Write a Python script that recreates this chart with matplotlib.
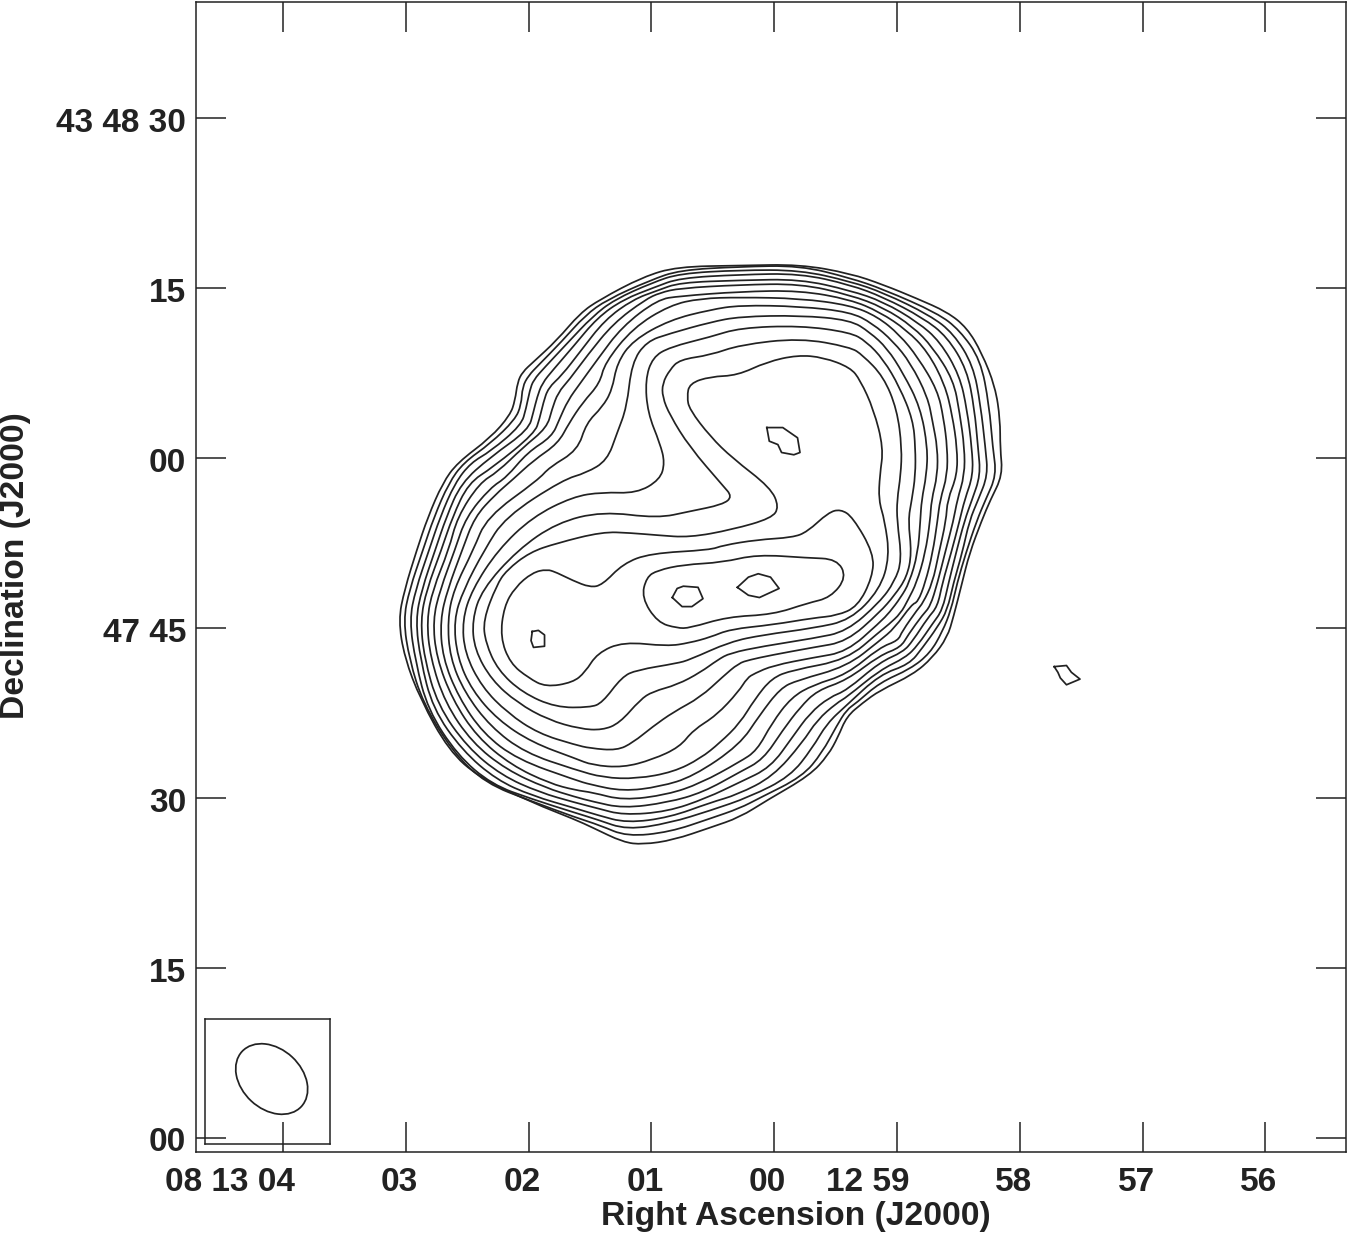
import matplotlib
matplotlib.use('Agg')
import matplotlib.pyplot as plt
from matplotlib.patches import Ellipse, PathPatch
from matplotlib.path import Path
from matplotlib.transforms import ScaledTranslation
import numpy as np

plt.rcParams['font.family'] = ['Liberation Sans', 'DejaVu Sans']
plt.rcParams['font.weight'] = 'bold'

INK = '#222222'

# tick values: RA seconds after 08 12 60, Dec arcsec after 43 47 00
ra_ticks = [4, 3, 2, 1, 0, -1, -2, -3, -4]
ra_labels = ['08 13 04', '03', '02', '01', '00', '12 59', '58', '57', '56']
dec_ticks = [0, 15, 30, 45, 60, 75, 90]
dec_labels = ['00', '15', '30', '47 45', '00', '15', '43 48 30']

# nested contours, outermost first
ra_c01 = [-.21,.28,.79,1.07,1.42,1.58,1.77,1.96,2.05,2.09,2.11,2.15,2.31,2.58,2.70,2.82,2.91,3.01,3.06,3.01,2.88,2.65,2.40,1.97,1.62,1.48,1.23,1.07,.82,.52,.28,.06,-.29,-.44,-.52,-.59,-.72,-.86,-1.13,-1.29,-1.41,-1.46,-1.53,-1.59,-1.69,-1.76,-1.86,-1.84,-1.84,-1.80,-1.69,-1.57,-1.41,-1.16,-.89,-.62]
dec_c01 = [77.1,77.0,76.9,76.0,74.0,72.8,70.4,68.5,67.6,66.7,65.1,63.8,61.8,59.6,57.8,54.8,51.9,48.4,45.7,42.4,38.7,34.2,31.8,29.6,28.1,27.4,26.1,25.9,26.3,27.4,28.3,29.8,32.0,33.8,35.4,37.2,38.4,39.5,40.9,42.4,44.2,46.0,49.0,51.6,54.5,56.3,58.5,60.9,63.4,66.3,69.3,71.5,72.9,74.1,75.3,76.3]
ra_c02 = [-.21,.28,.77,1.01,1.36,1.54,1.73,1.92,2.00,2.05,2.06,2.11,2.31,2.53,2.65,2.77,2.86,2.97,3.02,2.97,2.86,2.62,2.35,1.97,1.62,1.42,1.20,.85,.52,.28,.12,-.23,-.39,-.51,-.59,-.67,-.86,-1.11,-1.27,-1.37,-1.44,-1.49,-1.56,-1.65,-1.72,-1.81,-1.78,-1.75,-1.68,-1.51,-1.33,-.89,-.62]
dec_c02 = [77.0,76.9,76.6,75.7,74.0,72.6,70.3,68.2,67.3,66.3,64.7,63.4,61.3,59.6,57.8,54.8,51.9,48.4,45.7,42.2,38.4,34.1,31.3,29.7,28.3,27.6,26.6,27.0,28.2,29.1,30.0,31.9,34.0,36.4,37.8,38.4,40.2,41.4,42.8,44.7,46.6,49.0,51.6,54.5,56.3,58.5,60.9,64.7,68.7,71.3,72.8,74.9,75.9]
ra_c03 = [-.21,.28,.77,.99,1.30,1.48,1.68,1.87,1.96,1.99,2.02,2.06,2.31,2.47,2.60,2.72,2.81,2.92,2.97,2.92,2.82,2.58,2.30,1.97,1.62,1.44,1.20,.85,.52,.20,-.13,-.31,-.43,-.59,-.86,-1.10,-1.21,-1.33,-1.41,-1.46,-1.53,-1.59,-1.66,-1.74,-1.72,-1.68,-1.62,-1.46,-1.27,-.89,-.62]
dec_c03 = [76.6,76.6,76.3,75.5,74.0,72.5,70.2,68.0,66.9,66.0,64.4,62.9,60.6,59.6,57.8,54.8,51.9,48.4,45.7,42.0,37.8,33.8,31.2,29.9,28.7,28.1,27.2,27.8,28.9,30.1,31.9,34.4,36.6,38.2,40.9,41.8,43.3,45.1,46.6,49.0,51.6,54.5,56.3,58.5,60.9,64.7,68.2,71.0,72.6,74.6,75.6]
ra_c04 = [-.21,.28,.77,.97,1.23,1.44,1.64,1.80,1.89,1.93,1.96,2.00,2.31,2.55,2.67,2.76,2.87,2.92,2.88,2.78,2.54,2.26,1.97,1.62,1.44,1.20,.85,.52,.30,.01,-.23,-.35,-.51,-.59,-.86,-1.07,-1.17,-1.29,-1.37,-1.42,-1.48,-1.55,-1.61,-1.68,-1.66,-1.63,-1.57,-1.41,-1.21,-.89,-.62]
dec_c04 = [76.3,76.2,75.9,75.1,74.0,72.4,69.8,67.8,66.6,65.4,64.1,62.5,60.1,57.8,54.8,51.9,48.4,45.7,42.2,37.9,34.2,31.6,30.2,29.1,28.5,27.8,28.3,29.6,30.3,31.9,34.9,36.9,38.4,38.9,41.3,42.4,43.5,45.4,46.6,49.0,51.6,54.5,56.3,58.5,60.9,64.4,67.8,70.7,72.4,74.2,75.3]
ra_c05 = [-.21,.28,.77,.95,1.15,1.38,1.58,1.73,1.84,1.88,1.91,1.95,2.29,2.49,2.62,2.71,2.83,2.88,2.85,2.74,2.50,2.22,1.91,1.62,1.44,1.23,.87,.55,.28,.03,-.15,-.29,-.45,-.59,-.86,-1.05,-1.13,-1.25,-1.33,-1.37,-1.44,-1.51,-1.55,-1.62,-1.61,-1.57,-1.51,-1.35,-1.17,-.89,-.62]
dec_c05 = [75.8,75.7,75.5,74.8,74.0,72.2,69.4,67.3,66.2,64.9,63.5,62.2,59.2,57.8,54.8,51.9,48.4,45.7,42.4,38.2,34.5,32.0,30.5,29.6,29.1,28.5,28.8,30.0,31.4,32.7,35.4,37.5,38.9,39.5,42.0,42.9,43.9,45.9,46.9,49.0,51.6,54.5,56.3,58.5,60.9,64.3,67.3,70.3,72.0,73.8,74.8]
ra_c06 = [-.21,.28,.77,.93,1.05,1.31,1.52,1.67,1.76,1.81,1.85,2.05,2.25,2.40,2.58,2.65,2.78,2.83,2.80,2.68,2.46,2.18,1.86,1.62,1.48,1.23,.87,.58,.28,.09,-.07,-.21,-.35,-.59,-.86,-1.03,-1.09,-1.21,-1.27,-1.33,-1.39,-1.46,-1.49,-1.55,-1.55,-1.51,-1.46,-1.29,-1.13,-.89,-.62]
dec_c06 = [75.4,75.3,75.0,74.6,74.0,71.9,69.1,66.9,65.8,64.3,62.7,60.9,58.8,57.8,54.8,51.9,48.4,45.7,42.4,38.4,34.9,32.5,30.9,30.1,29.7,29.1,29.6,30.5,32.3,33.4,36.0,38.0,39.5,40.4,42.6,43.3,44.4,46.2,46.9,49.0,51.6,54.5,56.3,58.5,60.9,64.0,66.9,69.8,71.6,73.3,74.4]
ra_c07 = [-.21,.28,.77,.95,1.24,1.44,1.58,1.68,1.75,1.81,2.01,2.18,2.31,2.51,2.60,2.72,2.78,2.75,2.62,2.42,2.14,1.83,1.62,1.48,1.23,.87,.60,.28,.14,.02,-.14,-.32,-.59,-.86,-1.01,-1.04,-1.17,-1.21,-1.29,-1.34,-1.40,-1.41,-1.49,-1.49,-1.45,-1.39,-1.25,-1.08,-.86,-.62]
dec_c07 = [74.8,74.7,74.3,74.0,71.6,68.7,66.6,65.1,63.4,61.9,60.5,58.3,57.4,54.8,51.9,48.4,45.7,42.4,38.7,35.4,32.9,31.3,30.7,30.5,29.8,30.3,31.3,33.2,34.2,36.6,38.9,40.0,40.9,43.3,43.9,44.7,46.7,47.2,49.0,51.6,54.5,56.3,58.5,60.9,63.8,66.5,69.4,71.3,72.9,74.0]
ra_c08 = [-.21,.28,.60,.85,1.15,1.38,1.42,1.56,1.67,1.76,1.96,2.13,2.27,2.44,2.54,2.66,2.72,2.70,2.57,2.37,2.09,1.62,1.50,1.23,.93,.66,.28,.12,-.05,-.19,-.59,-.86,-.98,-1.12,-1.17,-1.23,-1.29,-1.33,-1.35,-1.41,-1.41,-1.38,-1.33,-1.17,-1.02,-.84,-.62]
dec_c08 = [74.1,74.2,74.1,73.5,71.5,68.4,66.6,64.9,63.1,61.3,59.8,58.1,56.8,54.8,51.9,48.4,45.7,42.4,38.9,35.7,33.4,31.6,31.2,30.6,31.0,31.9,34.7,37.3,39.7,40.4,41.6,43.9,45.0,47.1,47.3,49.0,51.6,54.5,56.3,58.5,60.9,63.5,66.0,68.9,70.9,72.5,73.5]
ra_c09 = [-.21,.28,.52,.85,1.15,1.28,1.32,1.40,1.53,1.60,1.83,1.92,2.34,2.45,2.61,2.66,2.64,2.52,2.31,2.03,1.62,1.39,1.12,.82,.60,.44,.28,.16,.02,-.15,-.59,-.86,-.93,-1.03,-1.09,-1.16,-1.23,-1.27,-1.28,-1.33,-1.33,-1.29,-1.25,-1.11,-.97,-.80,-.62]
dec_c09 = [73.4,73.5,73.1,72.2,70.4,68.4,66.0,64.5,63.1,60.7,59.2,58.1,54.8,51.9,48.4,45.7,42.4,39.3,36.3,34.0,32.5,31.8,31.7,32.3,33.5,34.9,36.6,38.7,40.6,41.3,42.2,44.7,45.3,46.3,47.5,49.0,51.6,54.5,56.3,58.5,60.9,63.2,65.4,68.4,70.3,71.9,72.9]
ra_c10 = [-.21,.28,.52,.85,1.04,1.16,1.20,1.28,1.36,1.53,1.72,2.19,2.36,2.53,2.61,2.58,2.46,2.25,1.97,1.62,1.48,1.23,.99,.77,.66,.47,.29,.22,.16,.01,-.32,-.59,-.86,-.94,-1.03,-1.10,-1.17,-1.19,-1.20,-1.24,-1.25,-1.19,-1.05,-.92,-.78,-.62]
dec_c10 = [72.6,72.5,72.0,71.0,70.3,68.4,64.5,62.2,59.8,58.7,58.1,54.8,51.9,48.4,45.7,42.4,39.5,36.9,34.9,33.5,32.9,32.7,33.4,34.5,36.0,37.3,39.4,40.6,41.0,41.7,42.4,42.9,45.5,46.4,47.7,49.0,51.6,54.5,56.3,58.5,60.9,64.5,67.5,69.7,71.1,72.2]
ra_c11 = [-.21,.28,.52,.85,.99,1.05,1.03,.93,.89,.93,1.12,1.40,1.64,1.97,2.25,2.46,2.54,2.52,2.38,2.17,1.92,1.62,1.50,1.28,1.15,.99,.82,.60,.42,.29,.20,.03,-.32,-.59,-.86,-.98,-1.08,-1.12,-1.09,-1.12,-1.15,-1.15,-1.13,-1.02,-.89,-.75,-.62]
dec_c11 = [71.7,71.5,70.7,69.8,68.9,66.9,64.0,61.3,59.6,58.1,56.9,57.0,56.6,54.8,51.9,48.4,45.7,42.8,39.8,37.5,35.7,34.7,34.4,34.2,34.9,36.3,37.6,38.9,40.7,41.9,42.2,42.6,43.3,43.8,46.4,47.9,49.5,51.6,54.5,56.3,58.5,60.9,63.4,66.3,68.7,70.3,71.1]
ra_c12 = [-.21,.28,.52,.77,.85,.91,.91,.85,.69,.42,.34,.42,.69,.95,1.40,1.77,2.09,2.38,2.46,2.44,2.30,2.09,1.84,1.58,1.40,1.26,1.09,.99,.79,.60,.46,.36,.09,-.32,-.59,-.86,-.98,-1.04,-1.00,-1.00,-1.03,-1.04,-1.00,-.89,-.72,-.62]
dec_c12 = [70.6,70.0,69.1,68.7,67.8,66.6,65.4,63.8,61.0,57.6,56.6,55.9,55.3,54.7,55.3,54.3,51.9,48.4,45.7,43.1,40.4,38.4,36.9,36.1,36.0,36.6,38.7,39.4,40.0,41.1,42.2,42.8,43.4,44.1,44.7,47.3,49.1,51.0,54.5,56.3,58.5,60.9,64.3,67.2,69.1,69.8]
ra_c13 = [.52,.69,.71,.69,.52,.34,.03,-.04,.02,.34,.69,.95,1.17,1.40,1.77,1.99,2.18,2.26,2.37,2.35,2.25,2.05,1.78,1.50,1.40,1.24,1.12,.79,.69,.36,.09,-.32,-.62,-.86,-.94,-.90,-.85,-.86,-.89,-.81,-.70,-.62,-.40,-.19,.06,.30]
dec_c13 = [67.2,66.6,65.4,64.3,61.9,60.0,57.4,55.7,54.7,53.7,53.0,53.2,53.4,53.5,52.5,51.7,50.1,48.8,45.7,43.7,41.3,39.3,38.0,38.0,38.4,40.7,41.3,41.9,42.2,43.8,44.4,45.0,45.7,48.4,51.3,54.5,56.3,58.5,60.9,64.3,66.9,68.0,68.9,69.1,68.5,67.3]
ra_c14 = [1.85,1.97,2.11,2.20,2.23,2.15,2.00,1.86,1.64,1.54,1.44,1.23,.87,.69,.52,.36,.01,-.32,-.51,-.68,-.80,-.81,-.64,-.54,-.44,-.27,-.15,.14,.42,.52,1.01,1.23,1.40,1.50,1.64,1.77]
dec_c14 = [50.2,49.9,48.6,46.9,44.2,41.9,40.6,39.8,40.2,41.1,42.8,43.8,43.4,43.7,44.2,44.9,45.3,45.9,46.1,46.9,49.5,51.6,54.8,55.5,55.2,53.5,53.0,52.8,52.3,51.9,51.6,50.7,48.8,48.6,49.2,49.9]
ra_c15 = [1.08,1.04,.95,.74,.42,.14,-.27,-.51,-.59,-.46,-.27,.01,.38,.69,.79,.95]
dec_c15 = [47.7,49.5,50.1,50.6,50.8,51.5,51.2,51.1,49.5,47.7,47.2,46.2,46.0,45.0,45.0,45.5]

# small peaks, these stay polygonal
ra_p1 = [1.97,1.92,1.87,1.87,1.96,1.98]
dec_p1 = [44.7,44.8,44.4,43.4,43.3,43.9]
ra_p2 = [.83,.79,.74,.62,.58,.67,.75]
dec_p2 = [47.7,48.5,48.7,48.6,47.6,46.9,46.9]
ra_p3 = [.30,.21,.13,.03,-.04,.12,.21]
dec_p3 = [48.6,49.5,49.8,49.5,48.5,47.7,47.9]
ra_p4 = [.06,-.07,-.19,-.21,-.16,-.06,-.03,.04]
dec_p4 = [62.7,62.7,61.8,60.5,60.3,60.5,61.2,61.5]
ra_p5 = [-2.28,-2.38,-2.42,-2.49,-2.38,-2.33,-2.31]
dec_p5 = [41.6,41.7,41.1,40.5,40.0,40.6,41.1]

# beam, arcsec
beam_major = 7.14
beam_minor = 5.3
beam_angle = -43


def smooth_closed(ra, dec):
    # quadratic segments through the midpoints, so the corners do not show
    pts = np.column_stack([ra, dec])
    mids = (pts + np.roll(pts, -1, axis=0)) / 2
    verts = [mids[-1]]
    codes = [Path.MOVETO]
    for p, m in zip(pts, mids):
        verts += [p, m]
        codes += [Path.CURVE3, Path.CURVE3]
    return Path(verts, codes)


fig = plt.figure(figsize=(13.5, 12.35), dpi=100)
ax = fig.add_axes([196 / 1350, 83 / 1235, 1150 / 1350, 1150 / 1235])

contours = [(ra_c01, dec_c01), (ra_c02, dec_c02), (ra_c03, dec_c03), (ra_c04, dec_c04), (ra_c05, dec_c05),
            (ra_c06, dec_c06), (ra_c07, dec_c07), (ra_c08, dec_c08), (ra_c09, dec_c09), (ra_c10, dec_c10),
            (ra_c11, dec_c11), (ra_c12, dec_c12), (ra_c13, dec_c13), (ra_c14, dec_c14), (ra_c15, dec_c15)]
for ra, dec in contours:
    ax.add_patch(PathPatch(smooth_closed(ra, dec), fill=False, edgecolor=INK, lw=1.25))

peaks = [(ra_p1, dec_p1), (ra_p2, dec_p2), (ra_p3, dec_p3), (ra_p4, dec_p4), (ra_p5, dec_p5)]
for ra, dec in peaks:
    ax.plot(ra + ra[:1], dec + dec[:1], color=INK, lw=1.25)

ax.set_xlim(4.708, -4.656)
ax.set_ylim(-1.236, 100.26)

ax.set_xticks(ra_ticks)
ax.set_xticklabels(ra_labels)
ax.set_yticks(dec_ticks)
ax.set_yticklabels(dec_labels)
ax.tick_params(direction='in', length=21.6, width=1.1, color=INK, labelcolor=INK,
               top=True, right=True, labelsize=24)
ax.tick_params(axis='x', pad=11)
ax.tick_params(axis='y', pad=7)
for side in ax.spines.values():
    side.set_linewidth(1.1)
    side.set_color(INK)

# RA labels end just right of their tick, Dec labels sit a little low
shift = ScaledTranslation(12 / 100, 0, fig.dpi_scale_trans)
for lab in ax.get_xticklabels():
    lab.set_ha('right')
    lab.set_transform(lab.get_transform() + shift)
drop = ScaledTranslation(0, -1.5 / 100, fig.dpi_scale_trans)
for lab in ax.get_yticklabels():
    lab.set_transform(lab.get_transform() + drop)

ax.set_xlabel('Right Ascension (J2000)', fontsize=24.2, fontweight='bold', color=INK)
ax.xaxis.set_label_coords(0.522, -0.043)
ax.set_ylabel('Declination (J2000)', fontsize=24.2, fontweight='bold', color=INK)
ax.yaxis.set_label_coords(-0.1435, 0.51)

# beam box in the corner
box = fig.add_axes([205 / 1350, 91 / 1235, 125 / 1350, 125 / 1235], facecolor='none')
box.set_xlim(-5.515, 5.515)
box.set_ylim(-5.515, 5.515)
box.set_xticks([])
box.set_yticks([])
for side in box.spines.values():
    side.set_linewidth(1.1)
    side.set_color(INK)
box.add_patch(Ellipse((0.37, 0.22), beam_major, beam_minor, angle=beam_angle, fill=False, edgecolor=INK, lw=1.25))

fig.savefig('out.png', dpi=100, facecolor='white')
